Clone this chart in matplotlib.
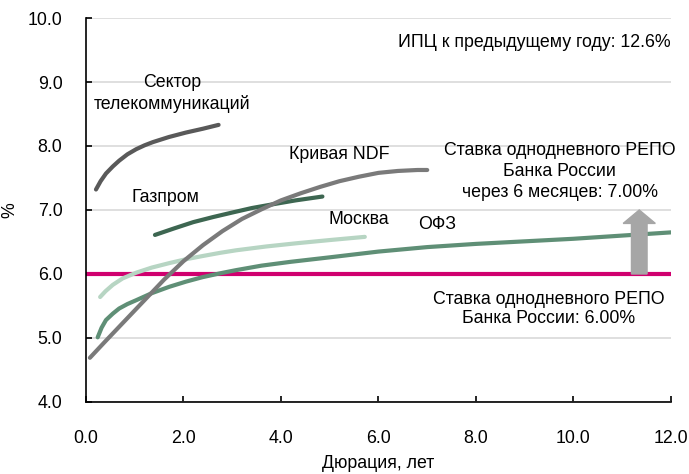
import matplotlib
matplotlib.use("Agg")
import matplotlib.pyplot as plt
from matplotlib import font_manager

# Narrow sans-serif if available
names = {f.name for f in font_manager.fontManager.ttflist}
family = [n for n in ["Liberation Sans Narrow", "Liberation Sans", "DejaVu Sans"] if n in names]
plt.rcParams["font.family"] = family
FS = 12.8

# Yield curves: duration (years) vs yield (%)
telecom_x = [0.205, 0.3, 0.41, 0.55, 0.68, 0.85, 1.03, 1.2, 1.37, 1.7, 2.05, 2.4, 2.72]
telecom_y = [7.32, 7.45, 7.57, 7.68, 7.77, 7.87, 7.95, 8.01, 8.06, 8.14, 8.21, 8.27, 8.33]

gazprom_x = [1.415, 1.8, 2.2, 2.61, 3.0, 3.4, 3.84, 4.3, 4.85]
gazprom_y = [6.61, 6.71, 6.81, 6.89, 6.96, 7.03, 7.09, 7.15, 7.21]

ndf_x = [0.08, 0.4, 0.8, 1.2, 1.6, 2.0, 2.4, 2.8, 3.2, 3.6, 4.0, 4.4,
         4.8, 5.2, 5.6, 6.0, 6.4, 6.8, 7.0]
ndf_y = [4.69, 4.95, 5.27, 5.59, 5.91, 6.20, 6.45, 6.67, 6.86, 7.01, 7.15, 7.26,
         7.36, 7.45, 7.52, 7.58, 7.61, 7.625, 7.625]

moscow_x = [0.29, 0.4, 0.55, 0.75, 1.03, 1.35, 1.71, 2.05, 2.39, 2.75, 3.08,
            3.7, 4.32, 5.0, 5.72]
moscow_y = [5.64, 5.73, 5.83, 5.93, 6.02, 6.10, 6.17, 6.23, 6.28, 6.33, 6.37,
            6.43, 6.48, 6.53, 6.58]

ofz_x = [0.24, 0.32, 0.41, 0.55, 0.68, 0.85, 1.03, 1.35, 1.71, 2.05, 2.39, 2.75,
         3.08, 3.6, 4.2, 5.0, 6.0, 7.0, 8.0, 9.0, 10.0, 11.0, 12.0]
ofz_y = [5.01, 5.16, 5.28, 5.38, 5.46, 5.53, 5.59, 5.70, 5.80, 5.88, 5.95, 6.01,
         6.06, 6.13, 6.19, 6.26, 6.35, 6.42, 6.47, 6.51, 6.55, 6.60, 6.65]

repo_rate = 6.00
repo_rate_6m = 7.00
cpi = 12.6
arrow_x = 11.35

x_ticks = [0, 2, 4, 6, 8, 10, 12]
y_ticks = [4, 5, 6, 7, 8, 9, 10]

fig = plt.figure(figsize=(6.89, 4.74), dpi=100)
ax = fig.add_axes([0.1248, 0.152, 0.849, 0.810])

ax.set_xlim(0, 12)
ax.set_ylim(4, 10)
ax.set_xticks(x_ticks)
ax.set_yticks(y_ticks)
ax.set_xticklabels([f"{v:.1f}" for v in x_ticks])
ax.set_yticklabels([f"{v:.1f}" for v in y_ticks])
ax.grid(axis="y", color="#d9d9d9", linewidth=1.2, zorder=0)
ax.set_axisbelow(True)

for s in ["top", "right"]:
    ax.spines[s].set_visible(False)
for s in ["left", "bottom"]:
    ax.spines[s].set_linewidth(1.2)
    ax.spines[s].set_color("black")

ax.tick_params(axis="both", direction="in", length=4, width=1.2, labelsize=FS)
ax.tick_params(axis="x", pad=20)
ax.tick_params(axis="y", pad=17)

ax.set_xlabel("Дюрация, лет", fontsize=FS, labelpad=6)
ax.set_ylabel("%", fontsize=FS, labelpad=7)

# Overnight REPO rate
ax.axhline(repo_rate, color="#d0006f", linewidth=3, zorder=2)

lw = 3
style = dict(lw=lw, solid_capstyle="round", solid_joinstyle="round")
ax.plot(ofz_x, ofz_y, color="#5f8f76", zorder=3, **style)
ax.plot(moscow_x, moscow_y, color="#b7d5c3", zorder=3, **style)
ax.plot(gazprom_x, gazprom_y, color="#3d6651", zorder=3, **style)
ax.plot(telecom_x, telecom_y, color="#595959", zorder=3, **style)
ax.plot(ndf_x, ndf_y, color="#7a7a7a", zorder=4, **style)

# Expected REPO rate in 6 months
ax.arrow(arrow_x, repo_rate, 0, repo_rate_6m - repo_rate, width=0.32,
         head_width=0.66, head_length=0.21, length_includes_head=True,
         color="#a6a6a6", zorder=5)

ax.text(1.76, 8.82, "Сектор\nтелекоммуникаций", ha="center", va="center",
        fontsize=FS, linespacing=1.3)
ax.text(1.62, 7.20, "Газпром", ha="center", va="center", fontsize=FS)
ax.text(5.19, 7.86, "Кривая NDF", ha="center", va="center", fontsize=FS)
ax.text(5.6, 6.85, "Москва", ha="center", va="center", fontsize=FS)
ax.text(7.2, 6.77, "ОФЗ", ha="center", va="center", fontsize=FS)
ax.text(12.0, 9.61, f"ИПЦ к предыдущему году: {cpi:.1f}%", ha="right",
        va="center", fontsize=FS)
ax.text(9.72, 7.60,
        f"Ставка однодневного РЕПО\nБанка России\nчерез 6 месяцев: {repo_rate_6m:.2f}%",
        ha="center", va="center", fontsize=FS, linespacing=1.3)
ax.text(9.49, 5.45, f"Ставка однодневного РЕПО\nБанка России: {repo_rate:.2f}%",
        ha="center", va="center", fontsize=FS, linespacing=1.2)

fig.savefig("out.png", dpi=100)
